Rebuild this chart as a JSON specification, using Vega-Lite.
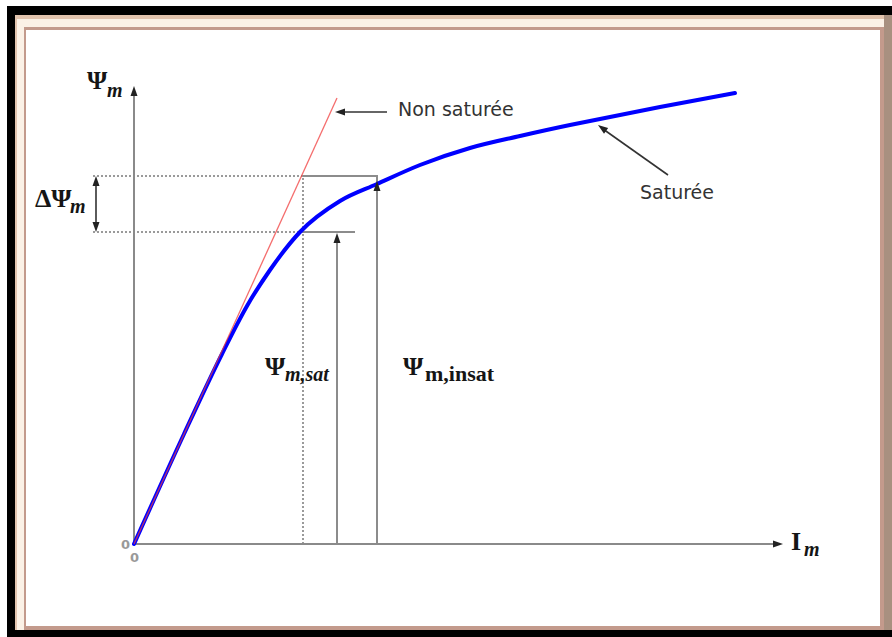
{
  "$schema": "https://vega.github.io/schema/vega-lite/v6.json",
  "width": 892,
  "height": 637,
  "padding": 0,
  "autosize": {"type": "none"},
  "background": "white",
  "config": {"view": {"stroke": null}},
  "datasets": {
    "frame": [
      {"x": -1.27, "x2": 7.66, "y": 5.38, "y2": -0.96, "fill": "#000000"},
      {"x": 7.5, "x2": 7.58, "y": 5.29, "y2": -0.86, "fill": "#a89080"},
      {"x": -1.19, "x2": 7.5, "y": 5.29, "y2": -0.86, "fill": "#e2c4ae"},
      {"x": -1.17, "x2": 7.5, "y": 5.25, "y2": -0.86, "fill": "#fbf1e6"},
      {"x": -1.1, "x2": 7.5, "y": 5.17, "y2": -0.86, "fill": "#c39a8c"},
      {"x": -1.08, "x2": 7.46, "y": 5.14, "y2": -0.82, "fill": "#ffffff"}
    ],
    "axes": [
      {"x": 0, "y": 0, "x2": 0, "y2": 4.5},
      {"x": 0, "y": 0, "x2": 6.42, "y2": 0}
    ],
    "guides": [
      {"x": 1.69, "y": 3.68, "x2": 2.44, "y2": 3.68},
      {"x": 1.66, "y": 3.12, "x2": 2.21, "y2": 3.12},
      {"x": 2.03, "y": 0, "x2": 2.03, "y2": 3.03},
      {"x": 2.43, "y": 0, "x2": 2.43, "y2": 3.68}
    ],
    "dotted": [
      {"x": -0.41, "y": 3.68, "x2": 1.69, "y2": 3.68},
      {"x": -0.41, "y": 3.12, "x2": 1.66, "y2": 3.12},
      {"x": 1.69, "y": 0, "x2": 1.69, "y2": 3.68}
    ],
    "pointers": [
      {"x": 2.53, "y": 4.32, "x2": 2.06, "y2": 4.32},
      {"x": 5.34, "y": 3.69, "x2": 4.69, "y2": 4.15},
      {"x": -0.38, "y": 3.62, "x2": -0.38, "y2": 3.18}
    ],
    "saturated": [
      {"i": 0, "im": 0, "psi": 0},
      {"i": 1, "im": 0.5, "psi": 1.1},
      {"i": 2, "im": 0.88, "psi": 1.9},
      {"i": 3, "im": 1.13, "psi": 2.38},
      {"i": 4, "im": 1.36, "psi": 2.74},
      {"i": 5, "im": 1.66, "psi": 3.12},
      {"i": 6, "im": 2.06, "psi": 3.43},
      {"i": 7, "im": 2.43, "psi": 3.6},
      {"i": 8, "im": 2.86, "psi": 3.79},
      {"i": 9, "im": 3.36, "psi": 3.96},
      {"i": 10, "im": 3.86, "psi": 4.08},
      {"i": 11, "im": 4.36, "psi": 4.19},
      {"i": 12, "im": 4.66, "psi": 4.25},
      {"i": 13, "im": 5.26, "psi": 4.37},
      {"i": 14, "im": 6.01, "psi": 4.51}
    ],
    "linear": [
      {"x": 0, "y": 0, "x2": 2.03, "y2": 4.46}
    ],
    "heads": [
      {"x": 0, "y": 4.58, "angle": 0},
      {"x": 6.49, "y": 0, "angle": 90},
      {"x": 2.01, "y": 4.32, "angle": 270},
      {"x": 4.64, "y": 4.19, "angle": 306},
      {"x": 2.03, "y": 3.11, "angle": 0},
      {"x": 2.43, "y": 3.63, "angle": 0},
      {"x": -0.38, "y": 3.68, "angle": 0},
      {"x": -0.38, "y": 3.12, "angle": 180}
    ],
    "symbols": [
      {"x": -0.47, "y": 4.55, "t": "Ψ"},
      {"x": -0.99, "y": 3.37, "t": "ΔΨ"},
      {"x": 1.31, "y": 1.69, "t": "Ψ"},
      {"x": 2.69, "y": 1.69, "t": "Ψ"},
      {"x": 6.57, "y": -0.06, "t": "I"}
    ],
    "subs": [
      {"x": -0.27, "y": 4.47, "t": "m"},
      {"x": -0.64, "y": 3.31, "t": "m"},
      {"x": 1.51, "y": 1.63, "t": "m,sat"},
      {"x": 6.7, "y": -0.12, "t": "m"}
    ],
    "upright": [
      {"x": 2.91, "y": 1.63, "t": "m,insat"}
    ],
    "notes": [
      {"x": 2.64, "y": 4.28, "t": "Non saturée"},
      {"x": 5.06, "y": 3.45, "t": "Saturée"}
    ],
    "zeros": [
      {"x": -0.085, "y": -0.05, "t": "0"},
      {"x": 0.005, "y": -0.18, "t": "0"}
    ]
  },
  "layer": [
    {
      "data": {"name": "frame"},
      "mark": {"type": "rect"},
      "encoding": {
        "x": {"field": "x", "type": "quantitative", "scale": {"domain": [-1.34, 7.58], "nice": false, "zero": false}, "axis": null},
        "x2": {"field": "x2"},
        "y": {"field": "y", "type": "quantitative", "scale": {"domain": [-0.93, 5.44], "nice": false, "zero": false}, "axis": null},
        "y2": {"field": "y2"},
        "fill": {"field": "fill", "type": "nominal", "scale": null}
      }
    },
    {
      "data": {"name": "dotted"},
      "mark": {"type": "rule", "color": "#9a9a9a", "strokeWidth": 2, "strokeDash": [2, 2]},
      "encoding": {
        "x": {"field": "x", "type": "quantitative"},
        "y": {"field": "y", "type": "quantitative"},
        "x2": {"field": "x2"},
        "y2": {"field": "y2"}
      }
    },
    {
      "data": {"name": "guides"},
      "mark": {"type": "rule", "color": "#8c8c8c", "strokeWidth": 2},
      "encoding": {
        "x": {"field": "x", "type": "quantitative"},
        "y": {"field": "y", "type": "quantitative"},
        "x2": {"field": "x2"},
        "y2": {"field": "y2"}
      }
    },
    {
      "data": {"name": "axes"},
      "mark": {"type": "rule", "color": "#8a8a8a", "strokeWidth": 2},
      "encoding": {
        "x": {"field": "x", "type": "quantitative"},
        "y": {"field": "y", "type": "quantitative"},
        "x2": {"field": "x2"},
        "y2": {"field": "y2"}
      }
    },
    {
      "data": {"name": "pointers"},
      "mark": {"type": "rule", "color": "#333333", "strokeWidth": 1.6},
      "encoding": {
        "x": {"field": "x", "type": "quantitative"},
        "y": {"field": "y", "type": "quantitative"},
        "x2": {"field": "x2"},
        "y2": {"field": "y2"}
      }
    },
    {
      "data": {"name": "saturated"},
      "mark": {"type": "line", "color": "#0000ff", "strokeWidth": 4, "strokeJoin": "round", "strokeCap": "round", "interpolate": "monotone"},
      "encoding": {
        "x": {"field": "im", "type": "quantitative"},
        "y": {"field": "psi", "type": "quantitative"},
        "order": {"field": "i", "type": "quantitative"}
      }
    },
    {
      "data": {"name": "linear"},
      "mark": {"type": "rule", "color": "#f03c3c", "strokeWidth": 1.3, "opacity": 0.75},
      "encoding": {
        "x": {"field": "x", "type": "quantitative"},
        "y": {"field": "y", "type": "quantitative"},
        "x2": {"field": "x2"},
        "y2": {"field": "y2"}
      }
    },
    {
      "data": {"name": "heads"},
      "mark": {"type": "point", "shape": "M0,0L-1.4,4L1.4,4Z", "filled": true, "color": "#222222", "opacity": 1, "size": 25, "strokeWidth": 0},
      "encoding": {
        "x": {"field": "x", "type": "quantitative"},
        "y": {"field": "y", "type": "quantitative"},
        "angle": {"field": "angle", "type": "quantitative", "scale": null}
      }
    },
    {
      "data": {"name": "symbols"},
      "mark": {"type": "text", "font": "Liberation Serif", "fontWeight": "bold", "fontSize": 26, "align": "left", "baseline": "alphabetic", "color": "#151515"},
      "encoding": {
        "x": {"field": "x", "type": "quantitative"},
        "y": {"field": "y", "type": "quantitative"},
        "text": {"field": "t"}
      }
    },
    {
      "data": {"name": "subs"},
      "mark": {"type": "text", "font": "Liberation Serif", "fontWeight": "bold", "fontStyle": "italic", "fontSize": 20, "align": "left", "baseline": "alphabetic", "color": "#151515"},
      "encoding": {
        "x": {"field": "x", "type": "quantitative"},
        "y": {"field": "y", "type": "quantitative"},
        "text": {"field": "t"}
      }
    },
    {
      "data": {"name": "upright"},
      "mark": {"type": "text", "font": "Liberation Serif", "fontWeight": "bold", "fontSize": 22, "align": "left", "baseline": "alphabetic", "color": "#151515"},
      "encoding": {
        "x": {"field": "x", "type": "quantitative"},
        "y": {"field": "y", "type": "quantitative"},
        "text": {"field": "t"}
      }
    },
    {
      "data": {"name": "notes"},
      "mark": {"type": "text", "font": "DejaVu Sans", "fontSize": 19, "align": "left", "baseline": "alphabetic", "color": "#333333"},
      "encoding": {
        "x": {"field": "x", "type": "quantitative"},
        "y": {"field": "y", "type": "quantitative"},
        "text": {"field": "t"}
      }
    },
    {
      "data": {"name": "zeros"},
      "mark": {"type": "text", "font": "DejaVu Sans", "fontSize": 13, "fontWeight": "bold", "align": "center", "baseline": "alphabetic", "color": "#999999"},
      "encoding": {
        "x": {"field": "x", "type": "quantitative"},
        "y": {"field": "y", "type": "quantitative"},
        "text": {"field": "t"}
      }
    }
  ]
}
